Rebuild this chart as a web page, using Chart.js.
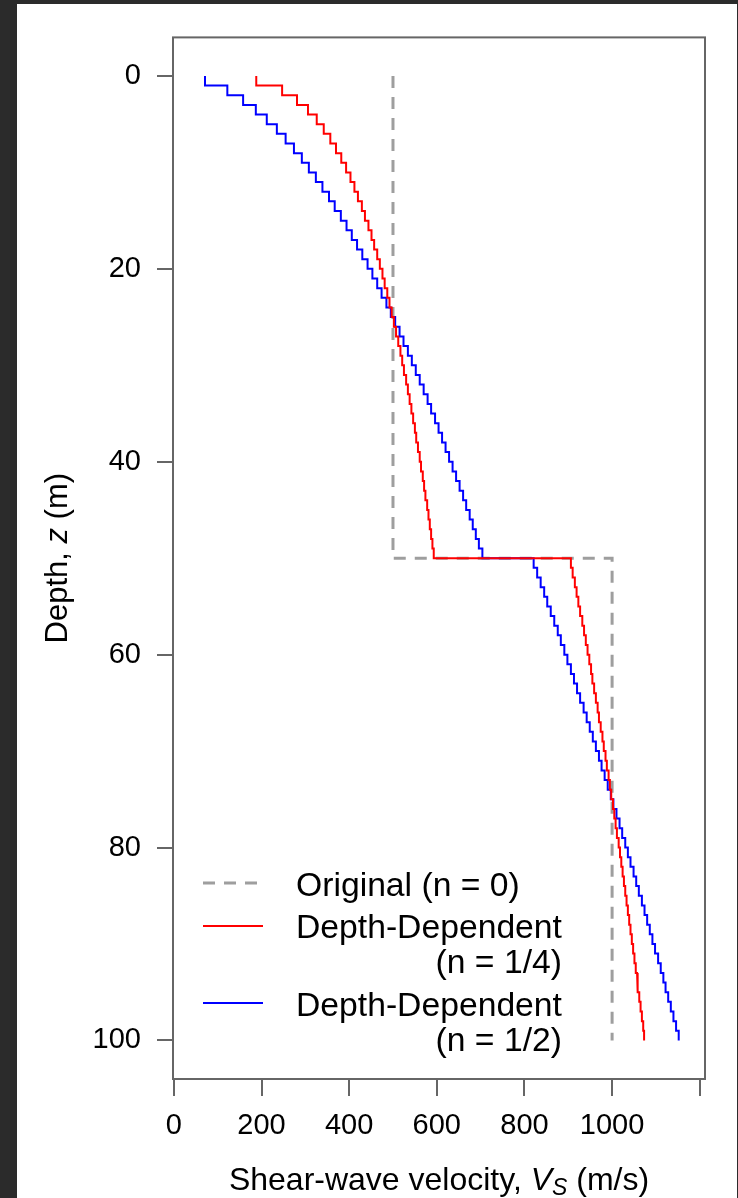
<!DOCTYPE html>
<html>
<head>
<meta charset="utf-8">
<script src="https://cdn.jsdelivr.net/npm/chart.js@4.4.0/dist/chart.umd.min.js"></script>
<style>
html, body { margin: 0; padding: 0; background: #2b2b2b; }
#wrap { position: absolute; left: 17px; top: 4px; width: 720px; height: 1194px; background: #fff; }
canvas { display: block; }
</style>
</head>
<body>
<div id="wrap"><canvas id="vsChart" width="720" height="1194"></canvas></div>
<script>
// layer boundaries (m), 1 m sub-layers
var layerDepths = [0,1,2,3,4,5,6,7,8,9,10,11,12,13,14,15,16,17,18,19,20,21,22,23,24,25,26,27,28,29,30,
  31,32,33,34,35,36,37,38,39,40,41,42,43,44,45,46,47,48,49,50,51,52,53,54,55,56,57,58,59,60,
  61,62,63,64,65,66,67,68,69,70,71,72,73,74,75,76,77,78,79,80,81,82,83,84,85,86,87,88,89,90,
  91,92,93,94,95,96,97,98,99,100];

// original two-layer profile
var origVs = [500, 500, 1000, 1000];
var origDepth = [0, 50, 50, 100];

// depth-dependent, n = 1/4 (one value per sub-layer)
var vsQuarter = [188,247,281,306,326,342,357,370,382,393,403,412,420,429,436,444,451,457,464,470,
  476,481,487,492,497,502,507,512,517,521,525,530,534,538,542,546,550,553,557,561,
  564,568,571,574,578,581,584,587,590,593,
  906,910,915,919,923,927,932,936,940,944,948,952,955,959,963,967,970,974,978,981,
  985,988,992,995,998,1002,1005,1008,1011,1015,1018,1021,1024,1027,1030,1033,1036,1039,1042,1045,
  1048,1051,1054,1057,1059,1062,1065,1068,1071,1073];

// depth-dependent, n = 1/2
var vsHalf = [71,122,158,187,212,235,255,274,292,308,324,339,354,367,381,394,406,418,430,442,
  453,464,474,485,495,505,515,524,534,543,552,561,570,579,587,596,604,612,620,628,
  636,644,652,660,667,675,682,689,696,704,
  821,829,837,845,852,860,868,876,883,891,898,906,913,920,927,935,942,949,956,963,
  970,976,983,990,997,1003,1010,1017,1023,1030,1036,1042,1049,1055,1061,1068,1074,1080,1086,1092,
  1098,1105,1111,1117,1122,1128,1134,1140,1146,1152];

var xTicks = [0, 200, 400, 600, 800, 1000, 1200];
var yTicks = [0, 20, 40, 60, 80, 100];

var FONT = 'Liberation Sans, Arial, sans-serif';

// turn sub-layer velocities into a step profile
function stepPoints(vs, depths) {
  var pts = [];
  for (var i = 0; i < vs.length; i++) {
    pts.push({x: vs[i], y: depths[i]});
    pts.push({x: vs[i], y: depths[i + 1]});
  }
  return pts;
}

function pairPoints(xs, ys) {
  return xs.map(function (v, i) { return {x: v, y: ys[i]}; });
}

// box round the plot, axis titles and the legend
var extras = {
  id: 'extras',
  afterDraw: function (chart) {
    var ctx = chart.ctx;
    var a = chart.chartArea;
    ctx.save();
    ctx.strokeStyle = '#666';
    ctx.lineWidth = 2;
    ctx.strokeRect(a.left, a.top, a.right - a.left, a.bottom - a.top);

    ctx.fillStyle = '#000';
    ctx.textBaseline = 'alphabetic';

    // x title
    var p1 = 'Shear-wave velocity, ', p3 = ' (m/s)';
    ctx.font = '32px ' + FONT;
    var w1 = ctx.measureText(p1).width, w3 = ctx.measureText(p3).width;
    ctx.font = 'italic 32px ' + FONT;
    var wV = ctx.measureText('V').width;
    ctx.font = 'italic 23px ' + FONT;
    var wS = ctx.measureText('S').width;
    var x0 = (a.left + a.right) / 2 - (w1 + wV + wS + w3) / 2;
    var by = 1186;
    ctx.textAlign = 'left';
    ctx.font = '32px ' + FONT;
    ctx.fillText(p1, x0, by);
    ctx.font = 'italic 32px ' + FONT;
    ctx.fillText('V', x0 + w1, by);
    ctx.font = 'italic 23px ' + FONT;
    ctx.fillText('S', x0 + w1 + wV, by + 5);
    ctx.font = '32px ' + FONT;
    ctx.fillText(p3, x0 + w1 + wV + wS, by);

    // y title, rotated
    var q1 = 'Depth, ', q3 = ' (m)';
    ctx.font = '31px ' + FONT;
    var u1 = ctx.measureText(q1).width, u3 = ctx.measureText(q3).width;
    ctx.font = 'italic 31px ' + FONT;
    var uz = ctx.measureText('z').width;
    ctx.save();
    ctx.translate(50, (a.top + a.bottom) / 2);
    ctx.rotate(-Math.PI / 2);
    var s0 = -(u1 + uz + u3) / 2;
    ctx.font = '31px ' + FONT;
    ctx.fillText(q1, s0, 0);
    ctx.font = 'italic 31px ' + FONT;
    ctx.fillText('z', s0 + u1, 0);
    ctx.font = '31px ' + FONT;
    ctx.fillText(q3, s0 + u1 + uz, 0);
    ctx.restore();

    // legend
    var lx0 = 186, lx1 = 246, tx = 279;
    ctx.lineCap = 'butt';
    ctx.strokeStyle = '#9e9e9e';
    ctx.lineWidth = 3;
    ctx.setLineDash([12, 9]);
    ctx.beginPath(); ctx.moveTo(lx0, 879); ctx.lineTo(lx1, 879); ctx.stroke();
    ctx.setLineDash([]);
    ctx.lineWidth = 2;
    ctx.strokeStyle = '#ff0000';
    ctx.beginPath(); ctx.moveTo(lx0, 922); ctx.lineTo(lx1, 922); ctx.stroke();
    ctx.strokeStyle = '#0000ff';
    ctx.beginPath(); ctx.moveTo(lx0, 999); ctx.lineTo(lx1, 999); ctx.stroke();

    ctx.font = '33.7px ' + FONT;
    var wd = ctx.measureText('Depth-Dependent').width;
    ctx.textAlign = 'left';
    ctx.fillText('Original (n = 0)', tx, 892);
    ctx.fillText('Depth-Dependent', tx, 934);
    ctx.fillText('Depth-Dependent', tx, 1012);
    ctx.textAlign = 'right';
    ctx.fillText('(n = 1/4)', tx + wd, 969);
    ctx.fillText('(n = 1/2)', tx + wd, 1047);
    ctx.restore();
  }
};

var ctx = document.getElementById('vsChart').getContext('2d');
var vsChart = new Chart(ctx, {
  type: 'scatter',
  data: {
    datasets: [{
      label: 'Depth-Dependent (n = 1/4)',
      data: stepPoints(vsQuarter, layerDepths),
      showLine: true,
      borderColor: '#ff0000',
      borderWidth: 2,
      pointRadius: 0,
      tension: 0
    }, {
      label: 'Depth-Dependent (n = 1/2)',
      data: stepPoints(vsHalf, layerDepths),
      showLine: true,
      borderColor: '#0000ff',
      borderWidth: 2,
      pointRadius: 0,
      tension: 0
    }, {
      label: 'Original (n = 0)',
      data: pairPoints(origVs, origDepth),
      showLine: true,
      borderColor: '#9e9e9e',
      borderWidth: 3,
      borderDash: [12, 9],
      pointRadius: 0,
      tension: 0
    }]
  },
  options: {
    responsive: false,
    devicePixelRatio: 1,
    animation: false,
    events: [],
    layout: { padding: { left: 0, top: 31, right: 32, bottom: 0 } },
    plugins: {
      legend: { display: false },
      tooltip: { enabled: false }
    },
    scales: {
      x: {
        type: 'linear',
        position: 'bottom',
        min: -2,
        max: 1212,
        afterBuildTicks: function (s) { s.ticks = xTicks.map(function (v) { return {value: v}; }); },
        afterFit: function (s) { s.height = 119; },
        ticks: {
          autoSkip: false,
          maxRotation: 0,
          padding: 13,
          color: '#000',
          font: { family: FONT, size: 29 },
          callback: function (v) { return v > 1000 ? '' : String(v); }
        },
        grid: { drawOnChartArea: false, tickLength: 17, color: '#666', lineWidth: 2 },
        border: { display: false }
      },
      y: {
        type: 'linear',
        reverse: true,
        min: -4,
        max: 104,
        afterBuildTicks: function (s) { s.ticks = yTicks.map(function (v) { return {value: v}; }); },
        afterFit: function (s) { s.width = 156; },
        ticks: {
          padding: 16,
          color: '#000',
          font: { family: FONT, size: 29 }
        },
        grid: { drawOnChartArea: false, tickLength: 16, color: '#666', lineWidth: 2 },
        border: { display: false }
      }
    }
  },
  plugins: [extras]
});
</script>
</body>
</html>
